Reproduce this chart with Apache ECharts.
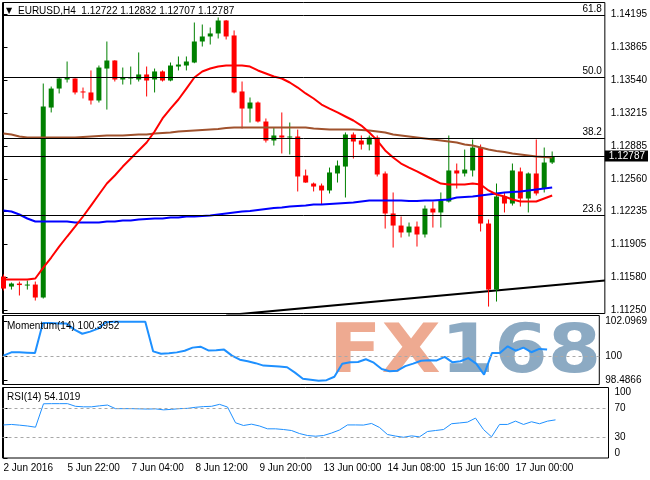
<!DOCTYPE html>
<html><head><meta charset="utf-8">
<script src="https://cdn.jsdelivr.net/npm/echarts@6/dist/echarts.min.js"></script>
<style>html,body{margin:0;padding:0;background:#fff}#c{width:650px;height:480px}</style>
</head><body><div id="c"></div>
<script>
// ---- data ----
const symbolName = 'EURUSD,H4';
const tickIdx = [0, 8, 16, 24, 32, 40, 48, 56, 64];
const tickLabels = ['2 Jun 2016', '5 Jun 22:00', '7 Jun 04:00', '8 Jun 12:00', '9 Jun 20:00',
  '13 Jun 00:00', '14 Jun 08:00', '15 Jun 16:00', '17 Jun 00:00'];
const priceTicks = [1.11250, 1.11580, 1.11905, 1.12235, 1.12560, 1.12885, 1.13215, 1.13540, 1.13865, 1.14195];
const momTicks = [98.4866, 100, 102.0969];
const rsiTicks = [0, 30, 70, 100];

const open = [1.11588,1.11488,1.11518,1.11503,1.11508,1.11379,1.13269,1.13458,1.13548,1.13558,
  1.13429,1.13419,1.13339,1.13657,1.13737,1.13548,1.13558,1.13548,1.13598,1.13548,
  1.13628,1.13538,1.13677,1.13687,1.13717,1.13926,1.13976,1.14006,1.14135,1.13986,
  1.13429,1.13259,1.13319,1.13130,1.12941,1.12991,1.12971,1.12981,1.12593,1.12513,
  1.12493,1.12444,1.12613,1.12682,1.13001,1.12941,1.12901,1.12971,1.12613,1.12215,
  1.12095,1.12026,1.12085,1.12006,1.12264,1.12225,1.12334,1.12643,1.12613,1.12643,
  1.12871,1.12115,1.11458,1.12384,1.12314,1.12633,1.12364,1.12613,1.12463,1.12722];
const high = [1.11608,1.11528,1.11538,1.11548,1.11538,1.13508,1.13478,1.13568,1.13727,1.13560,
  1.13468,1.13638,1.13687,1.13926,1.13740,1.13667,1.13677,1.13817,1.13677,1.13657,
  1.13638,1.13717,1.13777,1.13777,1.14115,1.14095,1.14065,1.14165,1.14140,1.14036,
  1.13528,1.13369,1.13329,1.13160,1.13070,1.13220,1.13120,1.13050,1.12652,1.12523,
  1.12513,1.12672,1.12742,1.13021,1.13021,1.12991,1.12991,1.12991,1.12633,1.12424,
  1.12185,1.12125,1.12135,1.12294,1.12334,1.12424,1.12991,1.12712,1.12851,1.12951,
  1.12901,1.12155,1.12513,1.12424,1.12712,1.12672,1.12623,1.12951,1.12871,1.12832];
const low = [1.11449,1.11458,1.11399,1.11458,1.11349,1.11369,1.13220,1.13409,1.13518,1.13399,
  1.13359,1.13299,1.13319,1.13249,1.13528,1.13498,1.13498,1.13528,1.13379,1.13419,
  1.13528,1.13530,1.13638,1.13638,1.13710,1.13876,1.13896,1.13956,1.13946,1.13410,
  1.13060,1.13120,1.13120,1.12921,1.12891,1.12812,1.12802,1.12434,1.12520,1.12434,
  1.12304,1.12414,1.12523,1.12374,1.12762,1.12851,1.12842,1.12583,1.12065,1.11876,
  1.11976,1.11986,1.11886,1.11976,1.12075,1.12075,1.12324,1.12463,1.12583,1.12583,
  1.12036,1.11289,1.11339,1.12225,1.12294,1.12284,1.12225,1.12394,1.12424,1.12707];
const close = [1.11468,1.11518,1.11503,1.11508,1.11379,1.13279,1.13458,1.13558,1.13568,1.13419,
  1.13419,1.13339,1.13667,1.13737,1.13548,1.13568,1.13568,1.13598,1.13538,1.13628,
  1.13538,1.13687,1.13697,1.13727,1.13926,1.13976,1.14006,1.14135,1.13976,1.13419,
  1.13259,1.13319,1.13130,1.12941,1.12991,1.12971,1.12981,1.12583,1.12523,1.12483,
  1.12444,1.12623,1.12692,1.13001,1.12931,1.12901,1.12971,1.12603,1.12215,1.12095,
  1.12026,1.12085,1.12006,1.12264,1.12225,1.12344,1.12643,1.12613,1.12652,1.12871,
  1.12115,1.11458,1.12384,1.12314,1.12643,1.12364,1.12613,1.12414,1.12722,1.12787];

const maFast = [1.11558,1.11558,1.11558,1.11558,1.11568,1.11677,1.11777,1.11886,1.11986,1.12085,
  1.12185,1.12294,1.12404,1.12513,1.12593,1.12682,1.12762,1.12842,1.12921,1.13031,
  1.13160,1.13259,1.13349,1.13458,1.13568,1.13628,1.13657,1.13677,1.13687,1.13687,
  1.13687,1.13677,1.13638,1.13608,1.13578,1.13558,1.13518,1.13468,1.13409,1.13359,
  1.13299,1.13259,1.13220,1.13180,1.13140,1.13090,1.13021,1.12941,1.12842,1.12772,
  1.12712,1.12672,1.12633,1.12593,1.12553,1.12513,1.12503,1.12503,1.12503,1.12513,
  1.12503,1.12444,1.12404,1.12384,1.12354,1.12334,1.12334,1.12334,1.12364,1.12394];
const maSlow = [1.13011,1.13001,1.12981,1.12971,1.12971,1.12971,1.12971,1.12971,1.12971,1.12971,
  1.12976,1.12981,1.12986,1.12991,1.12991,1.12991,1.12996,1.13001,1.13001,1.13011,
  1.13016,1.13021,1.13031,1.13036,1.13041,1.13046,1.13051,1.13056,1.13065,1.13070,
  1.13070,1.13070,1.13070,1.13070,1.13070,1.13070,1.13070,1.13070,1.13070,1.13060,
  1.13056,1.13051,1.13051,1.13051,1.13051,1.13046,1.13041,1.13031,1.13021,1.13001,
  1.12991,1.12981,1.12971,1.12961,1.12951,1.12941,1.12931,1.12921,1.12901,1.12891,
  1.12871,1.12852,1.12837,1.12827,1.12812,1.12802,1.12792,1.12782,1.12777,1.12772];
const maBlue = [1.12245,1.12235,1.12205,1.12165,1.12135,1.12135,1.12135,1.12135,1.12135,1.12125,
  1.12125,1.12125,1.12125,1.12135,1.12135,1.12145,1.12145,1.12155,1.12160,1.12165,
  1.12165,1.12175,1.12175,1.12185,1.12185,1.12190,1.12195,1.12205,1.12215,1.12225,
  1.12235,1.12240,1.12250,1.12260,1.12269,1.12274,1.12284,1.12289,1.12294,1.12304,
  1.12304,1.12309,1.12314,1.12319,1.12324,1.12334,1.12344,1.12344,1.12344,1.12344,
  1.12344,1.12339,1.12339,1.12344,1.12344,1.12349,1.12354,1.12374,1.12379,1.12384,
  1.12394,1.12404,1.12414,1.12424,1.12429,1.12434,1.12444,1.12454,1.12463,1.12473];

const momentum = [100.02,100.22,100.22,100.20,100.18,102.02,102.01,101.98,101.98,101.61,
  101.36,101.49,101.67,102.06,102.09,102.09,102.09,102.09,102.0969,100.28,
  100.14,100.17,100.22,100.32,100.51,100.57,100.34,100.35,100.39,100.02,
  99.77,99.68,99.56,99.41,99.38,99.35,99.31,98.98,98.61,98.55,
  98.4866,98.52,98.73,99.53,99.62,99.63,99.80,99.59,99.20,99.07,
  99.10,99.38,99.53,99.71,99.74,99.73,99.94,99.61,99.68,99.87,
  99.53,98.86,100.18,100.18,100.59,100.32,100.51,100.23,100.43,100.3952];
const rsi = [46.9,47.6,46.6,45.4,43.7,76.9,77.1,77.1,77.1,73.3,
  72.6,72.6,74.0,75.1,70.0,70.0,70.0,69.7,69.4,69.7,
  68.3,69.0,70.0,70.4,71.9,72.9,73.3,76.1,72.3,50.0,
  46.1,48.0,45.4,41.4,41.4,40.4,39.0,34.7,31.9,30.9,
  31.9,35.4,39.7,46.9,46.9,46.7,49.0,43.3,33.3,31.1,
  29.4,31.4,30.0,37.6,39.0,40.4,48.6,49.7,50.9,56.6,
  40.4,30.0,47.6,47.6,52.3,47.6,51.4,48.6,52.3,54.1019];

const fibLevels = [1.14185, 1.13568, 1.12961, 1.12195];
const fibNames = ['61.8', '50.0', '38.2', '23.6'];
const bidPrice = 1.12787;
const trendBars = [28, 75.625];
const trendPrices = [1.11202, 1.11548];

// ---- chart ----
const FONT = '"Liberation Sans", Arial, sans-serif';
const n = close.length;
const last = n - 1;
const candleData = open.map((o, i) => [i, o, close[i], low[i], high[i]]);
const pairs = arr => arr.map((v, i) => [i, v]);

const chart = echarts.init(document.getElementById('c'), null, { renderer: 'canvas' });

function xAxisDef(k) {
  return {
    type: 'value', gridIndex: k, min: -0.125, max: 75.625,
    axisLine: { show: false }, axisTick: { show: false }, splitLine: { show: false },
    axisLabel: k === 2 ? {
      show: true, customValues: tickIdx,
      formatter: v => tickLabels[tickIdx.indexOf(v)],
      align: 'left', margin: 5, fontSize: 10, color: '#000', fontFamily: FONT
    } : { show: false }
  };
}
function yAxisBase(k, min, max, ticks, fmt, extra) {
  return {
    type: 'value', gridIndex: k, position: 'right', min: min, max: max,
    axisLine: { show: true, lineStyle: { color: '#000', width: 1 } },
    axisTick: { show: true, customValues: ticks, length: 4, lineStyle: { color: '#000' } },
    splitLine: { show: false },
    axisLabel: Object.assign({ customValues: ticks, formatter: fmt, margin: 6, fontSize: 10, color: '#000', fontFamily: FONT }, extra || {})
  };
}
const dashed = { color: '#a8a8a8', width: 1, type: [3, 3] };

const option = {
  animation: false,
  backgroundColor: '#fff',
  textStyle: { fontFamily: FONT },
  grid: [
    { left: 2.5, top: 2.5, width: 606, height: 311, show: true, borderColor: '#000', borderWidth: 1 },
    { left: 2.5, top: 315.5, width: 606, height: 69, show: true, borderColor: '#000', borderWidth: 1 },
    { left: 2.5, top: 387.5, width: 606, height: 70.5, show: true, borderColor: '#000', borderWidth: 1 }
  ],
  xAxis: [xAxisDef(0), xAxisDef(1), xAxisDef(2)],
  yAxis: [
    yAxisBase(0, 1.11220, 1.14314, priceTicks, v => v.toFixed(5)),
    yAxisBase(1, 98.254, 102.476, momTicks, v => (v === 100 ? '100' : v.toFixed(4))),
    yAxisBase(2, 0, 100, rsiTicks, v => String(v), { verticalAlignMinLabel: 'bottom', verticalAlignMaxLabel: 'top' })
  ],
  series: [
    {
      type: 'line', xAxisIndex: 0, yAxisIndex: 0, data: trendBars.map((b, k) => [b, trendPrices[k]]),
      symbol: 'none', lineStyle: { color: '#000', width: 2 }, z: 2, silent: true,
      markLine: {
        silent: true, symbol: ['none', 'none'], animation: false, precision: 5,
        lineStyle: { color: '#000', width: 1, type: 'solid' },
        emphasis: { disabled: true },
        data: fibLevels.map((v, k) => ({
          yAxis: v,
          label: { show: true, position: 'insideEndTop', formatter: fibNames[k], color: '#000', fontSize: 10, fontFamily: FONT, distance: [3, 1] }
        })).concat([{
          yAxis: bidPrice,
          label: { show: true, position: 'end', formatter: bidPrice.toFixed(5), color: '#fff', backgroundColor: '#000',
            padding: [1, 3, 0, 4], distance: 0, fontSize: 10, fontFamily: FONT }
        }])
      }
    },
    {
      type: 'custom', xAxisIndex: 0, yAxisIndex: 0, data: candleData, z: 3, silent: true,
      encode: { x: 0, y: [1, 2, 3, 4] },
      renderItem: function (params, api) {
        const x = api.value(0), o = api.value(1), c = api.value(2), l = api.value(3), h = api.value(4);
        const pO = api.coord([x, o]), pC = api.coord([x, c]), pL = api.coord([x, l]), pH = api.coord([x, h]);
        const color = c >= o ? '#008000' : '#ff0000';
        const cx = pO[0];
        const top = Math.min(pO[1], pC[1]);
        const hgt = Math.max(1, Math.abs(pO[1] - pC[1]));
        return {
          type: 'group',
          children: [
            { type: 'line', shape: { x1: cx, y1: pH[1], x2: cx, y2: pL[1] }, style: { stroke: color, lineWidth: 1 } },
            { type: 'rect', shape: { x: cx - 2.5, y: top, width: 5, height: hgt }, style: { fill: color } }
          ]
        };
      }
    },
    { type: 'line', xAxisIndex: 0, yAxisIndex: 0, data: pairs(maSlow), symbol: 'none', lineStyle: { color: '#a0522d', width: 2 }, z: 4, silent: true },
    { type: 'line', xAxisIndex: 0, yAxisIndex: 0, data: pairs(maBlue), symbol: 'none', lineStyle: { color: '#0000ff', width: 2 }, z: 4, silent: true },
    { type: 'line', xAxisIndex: 0, yAxisIndex: 0, data: pairs(maFast), symbol: 'none', lineStyle: { color: '#ff0000', width: 2 }, z: 4, silent: true },
    {
      type: 'line', xAxisIndex: 1, yAxisIndex: 1, data: pairs(momentum), symbol: 'none',
      lineStyle: { color: '#1e90ff', width: 2 }, z: 4, silent: true,
      markLine: { silent: true, symbol: ['none', 'none'], label: { show: false }, lineStyle: dashed, data: [{ yAxis: 100 }] }
    },
    {
      type: 'line', xAxisIndex: 2, yAxisIndex: 2, data: pairs(rsi), symbol: 'none',
      lineStyle: { color: '#1e90ff', width: 1 }, z: 4, silent: true,
      markLine: { silent: true, symbol: ['none', 'none'], label: { show: false }, lineStyle: dashed, data: [{ yAxis: 70 }, { yAxis: 30 }] }
    }
  ],
  graphic: [
    { type: 'text', x: 329, y: 354.5, scaleX: 1.13, z: 1, silent: true, style: {
        text: '{a|FX}{b|168}', verticalAlign: 'middle',
        rich: {
          a: { fill: '#eeaa91', fontSize: 68, fontWeight: 'bold', fontFamily: '"DejaVu Sans"' },
          b: { fill: '#8caac3', fontSize: 68, fontWeight: 'bold', fontFamily: '"DejaVu Sans"' }
        } } },
    { type: 'text', x: 6, y: 11, z: 20, style: { text: '▼', font: '8px "DejaVu Sans"', fill: '#000', verticalAlign: 'middle' } },
    { type: 'text', x: 18, y: 11, z: 20, style: {
        text: symbolName + '  ' + [open[last], high[last], low[last], close[last]].map(v => v.toFixed(5)).join(' '),
        font: '10px ' + FONT, fill: '#000', verticalAlign: 'middle' } },
    { type: 'text', x: 7, y: 326, z: 20, style: { text: 'Momentum(14) ' + momentum[last].toFixed(4), font: '10px ' + FONT, fill: '#000', verticalAlign: 'middle' } },
    { type: 'text', x: 7, y: 397, z: 20, style: { text: 'RSI(14) ' + rsi[last].toFixed(4), font: '10px ' + FONT, fill: '#000', verticalAlign: 'middle' } }
  ]
};
chart.setOption(option);
</script></body></html>
